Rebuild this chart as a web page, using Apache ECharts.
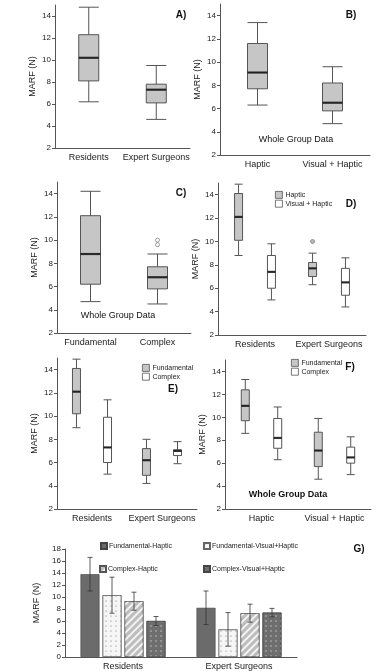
<!DOCTYPE html>
<html>
<head>
<meta charset="utf-8">
<script src="https://cdn.jsdelivr.net/npm/echarts@6/dist/echarts.min.js"></script>
<style>
  html, body { margin: 0; padding: 0; background: #fff; }
  #chart { width: 377px; height: 671px; }
</style>
</head>
<body>
<div id="chart"></div>
<script>
// tick labels
const yTicks = [2, 4, 6, 8, 10, 12, 14];
const gTicks = [0, 2, 4, 6, 8, 10, 12, 14, 16, 18];

// box data: [min, Q1, median, Q3, max]
const catA = ['Residents', 'Expert Surgeons'];
const boxA = [[6.2, 8.1, 10.2, 12.3, 14.8], [4.6, 6.1, 7.3, 7.8, 9.5]];
const catB = ['Haptic', 'Visual + Haptic'];
const boxB = [[6.3, 7.7, 9.1, 11.6, 13.4], [4.7, 5.8, 6.5, 8.2, 9.6]];
const catC = ['Fundamental', 'Complex'];
const boxC = [[4.7, 6.2, 8.8, 12.1, 14.2], [4.5, 5.8, 6.8, 7.7, 8.8]];
const outC = [9.6, 10.0];
const catD = ['Residents', 'Expert Surgeons'];
const boxDHaptic = [[8.8, 10.1, 12.1, 14.1, 14.9], [6.3, 7.0, 7.7, 8.2, 9.0]];
const boxDVisual = [[5.0, 6.0, 7.4, 8.8, 9.8], [4.4, 5.4, 6.5, 7.7, 8.6]];
const outDHaptic = [10.0];
const catE = ['Residents', 'Expert Surgeons'];
const boxEFund = [[9.0, 10.2, 12.1, 14.1, 14.9], [4.2, 4.9, 6.2, 7.2, 8.0]];
const boxEComp = [[5.0, 6.0, 7.3, 9.9, 11.4], [5.9, 6.6, 7.0, 7.1, 7.8]];
const catF = ['Haptic', 'Visual + Haptic'];
const boxFFund = [[8.6, 9.7, 11.0, 12.4, 13.3], [4.6, 5.7, 7.1, 8.7, 9.9]];
const boxFComp = [[6.3, 7.3, 8.2, 9.9, 10.9], [5.0, 6.0, 6.5, 7.4, 8.3]];

// bar panel G: mean and error
const catG = ['Residents', 'Expert Surgeons'];
const namesG = ['Fundamental-Haptic', 'Fundamental-Visual+Haptic', 'Complex-Haptic', 'Complex-Visual+Haptic'];
const meanG = [[13.8, 8.2], [10.3, 4.6], [9.3, 7.3], [6.0, 7.4]];
const errG = [[2.8, 2.8], [3.0, 2.8], [1.5, 1.5], [0.75, 0.7]];

const FONT = '"Liberation Sans", Arial, sans-serif';
const AXIS = '#555';
const GREY = '#c6c6c6';

const grids = [
  { left: 55, top: 5, width: 135, height: 143 },   // A
  { left: 220, top: 4, width: 150, height: 151 },  // B
  { left: 57, top: 182, width: 134, height: 151 }, // C
  { left: 218, top: 183, width: 148, height: 152 },// D
  { left: 57, top: 358, width: 140, height: 151 }, // E
  { left: 225, top: 360, width: 146, height: 149 },// F
  { left: 65, top: 549, width: 232, height: 108 }  // G
];

function catAxis(i, cats) {
  return {
    type: 'category', gridIndex: i, data: cats,
    axisLine: { lineStyle: { color: AXIS } },
    axisTick: { alignWithLabel: true, length: 3, lineStyle: { color: AXIS } },
    axisLabel: { fontFamily: FONT, fontSize: 9, color: '#222', margin: 5, interval: 0 }
  };
}

function marfAxis(i, min, max, ticks) {
  return {
    type: 'value', gridIndex: i, min: min, max: max, interval: 2,
    name: 'MARF (N)', nameLocation: 'middle', nameGap: 18, nameRotate: 90,
    nameTextStyle: { fontFamily: FONT, fontSize: 9, color: '#222' },
    axisLine: { show: true, lineStyle: { color: AXIS } },
    axisTick: { show: true, length: 3, customValues: ticks, lineStyle: { color: AXIS } },
    axisLabel: { fontFamily: FONT, fontSize: 8, color: '#222', margin: 4, customValues: ticks },
    splitLine: { show: false }
  };
}

// offset ECharts gives the two boxes of a paired boxplot
function pairOff(gridWidth) {
  const band = gridWidth / 2;
  const avail = band * 0.8 - 2;
  const gap = avail / 2 * 0.3;
  const w = (avail - gap) / 2;
  return (w + gap) / 2;
}

function boxSeries(i, name, data, color, w) {
  return {
    type: 'boxplot', name: name, xAxisIndex: i, yAxisIndex: i, data: data,
    boxWidth: [w, w], silent: true,
    itemStyle: { color: color, borderColor: '#555', borderWidth: 1 },
    z: 2
  };
}

function medianSeries(i, data, w, off) {
  return {
    type: 'scatter', xAxisIndex: i, yAxisIndex: i, silent: true,
    symbol: 'rect', symbolSize: [w, 2.2], symbolOffset: [off, 0],
    itemStyle: { color: '#111' },
    data: data.map((d, k) => [k, d[2]]), z: 5
  };
}

function outlierSeries(i, cat, vals, off, fill) {
  return {
    type: 'scatter', xAxisIndex: i, yAxisIndex: i, silent: true,
    symbol: 'circle', symbolSize: 4, symbolOffset: [off, 0],
    itemStyle: { color: fill, borderColor: '#666', borderWidth: 0.8 },
    data: vals.map(v => [cat, v]), z: 5
  };
}

const series = [];
const xAxes = [];
const yAxes = [];

const cats = [catA, catB, catC, catD, catE, catF];
cats.forEach((c, i) => {
  xAxes.push(catAxis(i, c));
  yAxes.push(marfAxis(i, 2, 15, yTicks));
});

// single-box panels
[[0, boxA, 20], [1, boxB, 20], [2, boxC, 20]].forEach(([i, d, w]) => {
  series.push(boxSeries(i, 'box' + i, d, GREY, w));
  series.push(medianSeries(i, d, w, 0));
});
series.push(outlierSeries(2, 1, outC, 0, '#fff'));

// paired panels
const paired = [
  [3, ['Haptic', boxDHaptic], ['Visual + Haptic', boxDVisual]],
  [4, ['Fundamental', boxEFund], ['Complex', boxEComp]],
  [5, ['Fundamental', boxFFund], ['Complex', boxFComp]]
];
paired.forEach(([i, a, b]) => {
  const off = pairOff(grids[i].width);
  series.push(boxSeries(i, a[0], a[1], GREY, 8));
  series.push(boxSeries(i, b[0], b[1], '#fff', 8));
  series.push(medianSeries(i, a[1], 8, -off));
  series.push(medianSeries(i, b[1], 8, off));
});
series.push(outlierSeries(3, 1, outDHaptic, -pairOff(grids[3].width), '#aaa'));

// panel G
xAxes.push(Object.assign(catAxis(6, catG), { axisTick: { show: false } }));
yAxes.push(marfAxis(6, 0, 18, gTicks));

const barW = 19;
const barGapPx = 3;
const barStyles = [
  { color: '#6b6b6b', borderColor: '#444', borderWidth: 0.6 },
  { color: '#f6f6f6', borderColor: '#666', borderWidth: 0.6,
    decal: { symbol: 'circle', symbolSize: 0.6, color: '#777', dashArrayX: [2, 3], dashArrayY: [2, 3] } },
  { color: '#bdbdbd', borderColor: '#555', borderWidth: 0.6,
    decal: { symbol: 'rect', symbolSize: 1, color: '#f2f2f2', dashArrayX: [1, 0], dashArrayY: [1.5, 2.5], rotation: -Math.PI / 4 } },
  { color: '#6e6e6e', borderColor: '#444', borderWidth: 0.6,
    decal: { symbol: 'circle', symbolSize: 0.7, color: '#cfcfcf', dashArrayX: [2, 3], dashArrayY: [2, 3] } }
];
namesG.forEach((n, k) => {
  series.push({
    type: 'bar', name: n, xAxisIndex: 6, yAxisIndex: 6,
    data: meanG[k], barWidth: barW, barGap: (barGapPx / barW * 100) + '%',
    itemStyle: barStyles[k], silent: true
  });
});
namesG.forEach((n, k) => {
  const off = (k - 1.5) * (barW + barGapPx);
  series.push({
    type: 'custom', xAxisIndex: 6, yAxisIndex: 6, silent: true, z: 10,
    encode: { x: 0, y: [1, 2] },
    data: catG.map((c, j) => [j, meanG[k][j] - errG[k][j], meanG[k][j] + errG[k][j]]),
    renderItem: (params, api) => {
      const lo = api.coord([api.value(0), api.value(1)]);
      const hi = api.coord([api.value(0), api.value(2)]);
      const x = lo[0] + off;
      const st = { stroke: '#333', lineWidth: 0.8 };
      return {
        type: 'group',
        children: [
          { type: 'line', shape: { x1: x, y1: lo[1], x2: x, y2: hi[1] }, style: st },
          { type: 'line', shape: { x1: x - 2.5, y1: hi[1], x2: x + 2.5, y2: hi[1] }, style: st },
          { type: 'line', shape: { x1: x - 2.5, y1: lo[1], x2: x + 2.5, y2: lo[1] }, style: st }
        ]
      };
    }
  });
});

const smallLegend = (left, top, names) => ({
  left: left, top: top, orient: 'vertical', itemGap: 1,
  itemWidth: 7, itemHeight: 7, icon: 'rect', selectedMode: false,
  data: [
    { name: names[0], itemStyle: { color: GREY, borderColor: '#555', borderWidth: 0.8 } },
    { name: names[1], itemStyle: { color: '#fff', borderColor: '#555', borderWidth: 0.8 } }
  ],
  textStyle: { fontFamily: FONT, fontSize: 7, color: '#222', padding: [0, 0, 0, -2] },
  padding: 0
});
const gLegend = (left, top, name) => ({
  left: left, top: top, itemWidth: 6, itemHeight: 6, icon: 'rect', selectedMode: false,
  data: [name], padding: 0,
  textStyle: { fontFamily: FONT, fontSize: 7, color: '#222', padding: [0, 0, 0, -3] }
});

const label = (x, y, t, size, weight) => ({
  type: 'text', x: x, y: y, silent: true,
  style: { text: t, fontFamily: FONT, fontSize: size, fontWeight: weight || 'normal',
    fill: '#111', textAlign: 'center', textVerticalAlign: 'middle' }
});

const chart = echarts.init(document.getElementById('chart'), null, { renderer: 'canvas' });
chart.setOption({
  animation: false,
  backgroundColor: '#fff',
  grid: grids,
  xAxis: xAxes,
  yAxis: yAxes,
  legend: [
    smallLegend(275, 191, ['Haptic', 'Visual + Haptic']),
    smallLegend(142, 364, ['Fundamental', 'Complex']),
    smallLegend(291, 359, ['Fundamental', 'Complex']),
    gLegend(100, 542, namesG[0]),
    gLegend(203, 542, namesG[1]),
    gLegend(99, 565, namesG[2]),
    gLegend(203, 565, namesG[3])
  ],
  graphic: [
    label(181, 15, 'A)', 10, 'bold'),
    label(351, 15, 'B)', 10, 'bold'),
    label(181, 193, 'C)', 10, 'bold'),
    label(351, 204, 'D)', 10, 'bold'),
    label(173, 389, 'E)', 10, 'bold'),
    label(350, 367, 'F)', 10, 'bold'),
    label(359, 549, 'G)', 10, 'bold'),
    label(296, 140, 'Whole Group Data', 9),
    label(118, 316, 'Whole Group Data', 9),
    label(288, 495, 'Whole Group Data', 9, 'bold')
  ],
  series: series
});
</script>
</body>
</html>
